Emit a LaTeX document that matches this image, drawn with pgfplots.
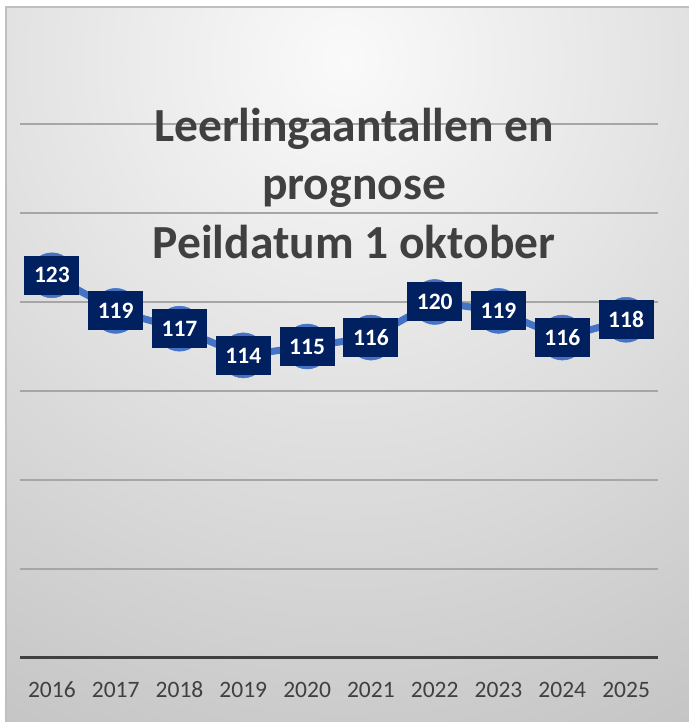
\documentclass[border=0pt]{standalone}
\usepackage{pgfplots}
\pgfplotsset{compat=1.18}
\usepackage{fontspec}
\setmainfont{Carlito}
\definecolor{lineblue}{HTML}{4472C4}
\definecolor{navy}{HTML}{002060}
\definecolor{txtgray}{HTML}{404040}
\definecolor{gridgray}{HTML}{A6A6A6}
\definecolor{framegray}{HTML}{BFBFBF}
\definecolor{bginner}{HTML}{FAFAFA}
\definecolor{bgouter}{HTML}{C4C4C4}
\begin{document}
\begin{tikzpicture}[x=1pt,y=1pt]
\useasboundingbox (0,0) rectangle (688,722);
\fill[white] (0,0) rectangle (688,722);
\begin{scope}
\clip (6,-5) rectangle (700,715);
\shade[inner color=bginner, outer color=bgouter] (344,662) circle (760);
\end{scope}
\draw[framegray, line width=1.2pt] (6,-5) -- (6,715) -- (700,715);
\begin{axis}[
  at={(20pt,64pt)}, anchor=south west,
  scale only axis, width=638pt, height=534pt,
  xmin=-0.5, xmax=9.5, ymin=80, ymax=140,
  axis line style={draw=none},
  tick style={draw=none},
  xtick={0,...,9},
  xticklabels={2016,2017,2018,2019,2020,2021,2022,2023,2024,2025},
  xticklabel style={anchor=base, yshift=-40pt, text=txtgray, font=\fontsize{23.5}{28}\selectfont},
  ytick={90,100,110,120,130,140},
  yticklabels={},
  ymajorgrids,
  grid style={gridgray, line width=1.6pt},
  clip=false,
  /pgf/number format/assume math mode=true,
  nodes near coords,
  nodes near coords style={anchor=center, fill=navy, text=white,
     font=\fontsize{23.5}{28}\selectfont\bfseries,
     minimum width=55pt, minimum height=39pt, inner sep=0pt},
]
\draw[txtgray, line width=3pt] (axis cs:-0.5,80) -- (axis cs:9.5,80);
\addplot[lineblue, line width=7pt, mark=*, mark size=22.5pt,
  mark options={fill=lineblue, draw=lineblue, line width=0.5pt}]
  coordinates {(0,123) (1,119) (2,117) (3,114) (4,115) (5,116) (6,120) (7,119) (8,116) (9,118)};
\end{axis}
\begin{scope}[every node/.style={anchor=base, text=txtgray, font=\fontsize{47.5}{58}\selectfont\bfseries, inner sep=0pt}]
\node at (354,580) {Leerlingaantallen en};
\node at (354,522) {prognose};
\node at (354,463) {Peildatum 1 oktober};
\end{scope}
\end{tikzpicture}
\end{document}
